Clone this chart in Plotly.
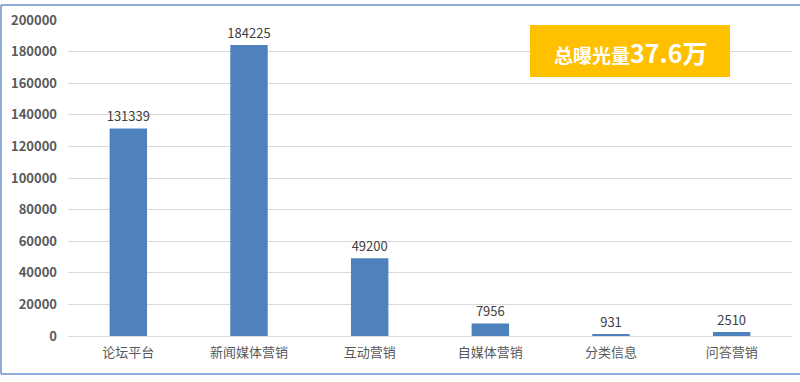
import plotly.graph_objects as go

categories = ["论坛平台", "新闻媒体营销", "互动营销", "自媒体营销", "分类信息", "问答营销"]
values = [131339, 184225, 49200, 7956, 931, 2510]
y_ticks = [0, 20000, 40000, 60000, 80000, 100000, 120000, 140000, 160000, 180000, 200000]
y_tick_labels = [str(v) for v in y_ticks]
badge_label = "总曝光量"
badge_value = "37.6万"

fig = go.Figure()
fig.add_trace(go.Bar(
    x=categories, y=values,
    marker=dict(color="#4F81BD", line=dict(width=0)),
    text=[str(v) for v in values],
    textposition="outside",
    constraintext="none",
    cliponaxis=False,
    textfont=dict(family="Noto Sans CJK SC", size=13, color="#404040"),
))

L, R, T, B = 68, 8, 20, 46
W, H = 800, 382
pw, ph = W - L - R, H - T - B

def px(x):
    return (x - L) / pw

def py(y):
    return (H - B - y) / ph

border = dict(color="#6A8FC8", width=1.5)

fig.update_layout(
    width=W, height=H,
    margin=dict(l=L, r=R, t=T, b=B, autoexpand=False),
    paper_bgcolor="white", plot_bgcolor="white",
    showlegend=False,
    bargap=0.69,
    font=dict(family="Noto Sans CJK SC", color="#595959"),
    xaxis=dict(
        tickfont=dict(size=13, color="#595959"),
        showline=True, linecolor="#d9d9d9", linewidth=1,
        ticks="", showgrid=False, automargin=False,
        ticklabelstandoff=4,
    ),
    yaxis=dict(
        range=[0, 200000],
        tickvals=y_ticks, ticktext=y_tick_labels,
        tickfont=dict(size=13, color="#595959", weight="bold"),
        showgrid=True, gridcolor="#d9d9d9", gridwidth=1,
        zeroline=False, showline=False, ticks="",
        ticklabelstandoff=10, automargin=False,
    ),
    shapes=[
        dict(type="line", xref="paper", yref="paper",
             x0=px(1), x1=px(1), y0=py(374), y1=py(5), line=border, layer="below"),
        dict(type="line", xref="paper", yref="paper",
             x0=px(1), x1=px(800), y0=py(5), y1=py(5), line=border, layer="below"),
        dict(type="line", xref="paper", yref="paper",
             x0=px(1), x1=px(800), y0=py(374), y1=py(374), line=border, layer="below"),
        dict(type="rect", xref="paper", yref="paper",
             x0=px(530), x1=px(730), y0=py(77), y1=py(25),
             line=dict(width=0), fillcolor="#FFC000", layer="above"),
    ],
    annotations=[
        dict(xref="paper", yref="paper", x=px(630), y=py(52),
             xanchor="center", yanchor="middle", showarrow=False,
             text=f"<b><span style='font-size:19px'>{badge_label}</span><span style='font-size:25px'>{badge_value}</span></b>",
             font=dict(family="Noto Sans CJK SC", color="white")),
    ],
)

fig.write_html("out.html", config={"displayModeBar": False},
               post_script="document.body.style.margin='0';document.body.style.overflow='hidden';")
